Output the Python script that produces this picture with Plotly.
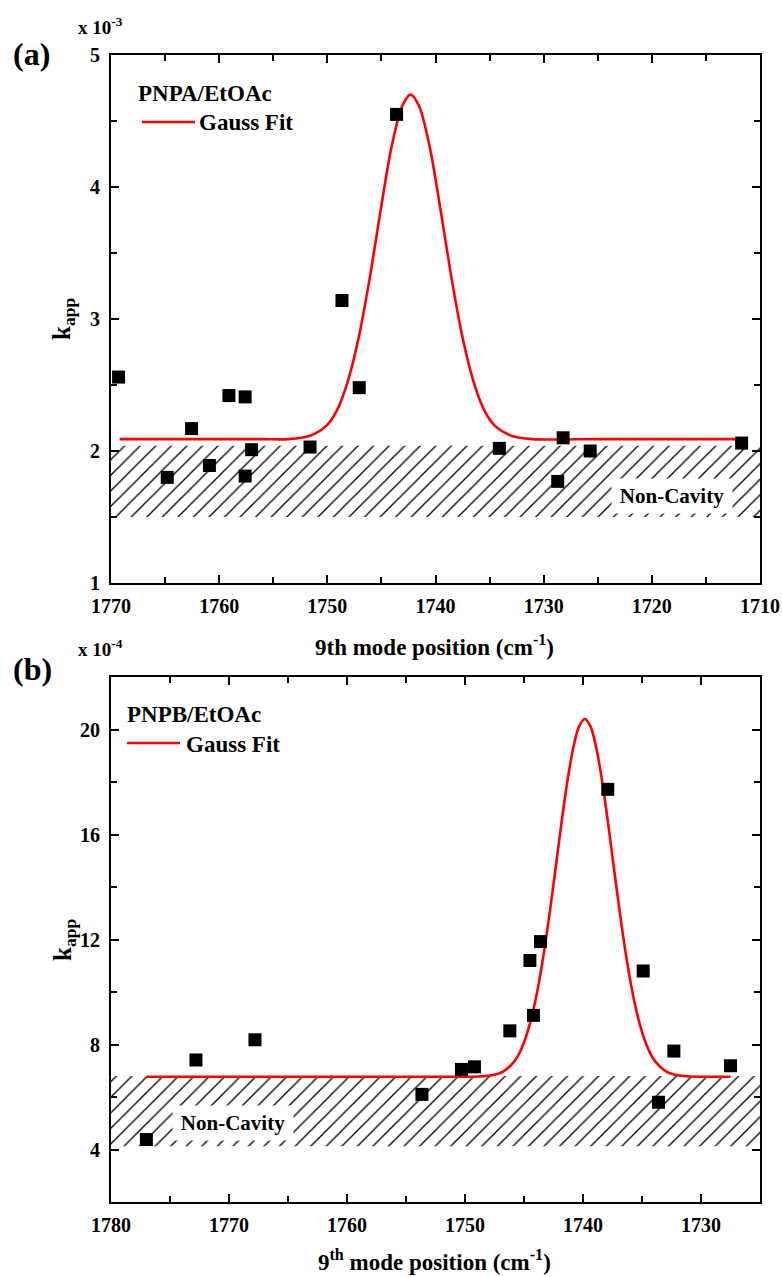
import plotly.graph_objects as go

W, H = 782, 1277

# ---------------- Panel (a): PNPA/EtOAc ----------------
a_x = [1769.3, 1764.8, 1762.55, 1760.9, 1759.1, 1757.6, 1757.6, 1757.0, 1751.6,
       1748.65, 1747.05, 1743.6, 1734.1, 1728.7, 1728.2, 1725.7, 1711.7]
a_y = [2.56, 1.80, 2.17, 1.89, 2.42, 2.41, 1.81, 2.01, 2.03,
       3.14, 2.48, 4.55, 2.02, 1.77, 2.10, 2.00, 2.06]
a_fit_x = [1769.2, 1762.0, 1756.0, 1753.6, 1751.6, 1750.1, 1749.1, 1748.1, 1747.1,
           1746.1, 1745.1, 1744.1, 1743.1, 1742.3, 1741.5, 1740.5, 1739.5, 1738.5,
           1737.5, 1736.5, 1735.5, 1734.5, 1733.0, 1731.0, 1725.0, 1718.0, 1711.9]
a_fit_y = [2.09, 2.09, 2.09, 2.09, 2.116, 2.19, 2.31, 2.53, 2.86,
           3.30, 3.81, 4.29, 4.61, 4.70, 4.61, 4.29, 3.81, 3.30,
           2.86, 2.53, 2.31, 2.19, 2.116, 2.09, 2.09, 2.09, 2.09]
a_band_x = [1770, 1710]
a_band_y = [1.50, 2.04]
a_yticks = [1, 2, 3, 4, 5]
a_xticks = [1770, 1760, 1750, 1740, 1730, 1720, 1710]

# ---------------- Panel (b): PNPB/EtOAc ----------------
b_x = [1777.0, 1772.8, 1767.8, 1753.65, 1750.3, 1749.2, 1746.2, 1744.5, 1744.2,
       1743.6, 1737.9, 1734.9, 1733.6, 1732.3, 1727.5]
b_y = [4.38, 7.41, 8.18, 6.10, 7.05, 7.15, 8.52, 11.2, 9.11,
       11.92, 17.72, 10.8, 5.80, 7.75, 7.19]
b_fit_x = [1777.0, 1765.0, 1755.0, 1750.85, 1748.85, 1747.85, 1746.85, 1745.85,
           1745.35, 1744.85, 1744.35, 1743.85, 1743.35, 1742.85, 1742.35, 1741.85,
           1741.35, 1740.85, 1740.35, 1739.85, 1739.35, 1738.85, 1738.35, 1737.85,
           1737.35, 1736.85, 1736.35, 1735.85, 1735.35, 1734.85, 1734.35, 1733.85,
           1732.85, 1731.85, 1730.85, 1727.5]
b_fit_y = [6.77, 6.77, 6.77, 6.77, 6.78, 6.82, 6.95, 7.34,
           7.71, 8.27, 9.05, 10.09, 11.39, 12.93, 14.62, 16.35,
           17.95, 19.25, 20.10, 20.40, 20.10, 19.25, 17.95, 16.35,
           14.62, 12.93, 11.39, 10.09, 9.05, 8.27, 7.71, 7.34,
           6.95, 6.82, 6.78, 6.77]
b_band_x = [1780, 1725]
b_band_y = [4.12, 6.80]
b_yticks = [4, 8, 12, 16, 20]
b_xticks = [1780, 1770, 1760, 1750, 1740, 1730]

FONT = "Liberation Serif"
RED = "#ff0000"


def px(x):
    return x / W


def py(y):
    return 1 - y / H


def band_trace(bx, by, xa, ya):
    return go.Scatter(
        x=[bx[0], bx[1], bx[1], bx[0], bx[0]],
        y=[by[0], by[0], by[1], by[1], by[0]],
        xaxis=xa, yaxis=ya, mode="lines", fill="toself",
        line=dict(width=0, color="rgba(0,0,0,0)"),
        fillcolor="white",
        fillpattern=dict(shape="/", size=11, solidity=0.12, fgcolor="black",
                         bgcolor="white", fillmode="replace"),
        hoverinfo="skip", showlegend=False,
    )


fig = go.Figure()
# panel a
fig.add_trace(band_trace(a_band_x, a_band_y, "x", "y"))
fig.add_trace(go.Scatter(x=a_fit_x, y=a_fit_y, xaxis="x", yaxis="y", mode="lines",
                         line=dict(color=RED, width=2.6, shape="spline", smoothing=0.8),
                         name="Gauss Fit", showlegend=False))
fig.add_trace(go.Scatter(x=a_x, y=a_y, xaxis="x", yaxis="y", mode="markers",
                         marker=dict(symbol="square", size=13, color="black"),
                         showlegend=False))
# panel b
fig.add_trace(band_trace(b_band_x, b_band_y, "x2", "y2"))
fig.add_trace(go.Scatter(x=b_fit_x, y=b_fit_y, xaxis="x2", yaxis="y2", mode="lines",
                         line=dict(color=RED, width=2.6, shape="spline", smoothing=0.8),
                         name="Gauss Fit", showlegend=False))
fig.add_trace(go.Scatter(x=b_x, y=b_y, xaxis="x2", yaxis="y2", mode="markers",
                         marker=dict(symbol="square", size=13, color="black"),
                         showlegend=False))

tickfont = dict(family=FONT, size=20, color="black", weight="bold")
common = dict(showline=True, linewidth=2, linecolor="black", mirror="ticks",
              ticks="inside", ticklen=8, tickwidth=2, tickcolor="black",
              showgrid=False, zeroline=False, tickfont=tickfont, automargin=False)

dom_x = [px(111), px(760)]
fig.update_layout(
    template="none",
    width=W, height=H,
    margin=dict(l=0, r=0, t=0, b=0, pad=0),
    paper_bgcolor="white", plot_bgcolor="white",
    showlegend=False,
    xaxis=dict(domain=dom_x, anchor="y", range=[1770, 1710], tickvals=a_xticks,
               minor=dict(dtick=5, ticks="inside", ticklen=6, tickwidth=2, tickcolor="black"),
               ticklabelstandoff=4, **common),
    yaxis=dict(domain=[py(583), py(55)], anchor="x", range=[1, 5], tickvals=a_yticks,
               minor=dict(dtick=0.5, ticks="inside", ticklen=6, tickwidth=2, tickcolor="black"),
               ticklabelstandoff=5, **common),
    xaxis2=dict(domain=dom_x, anchor="y2", range=[1780, 1725], tickvals=b_xticks,
                minor=dict(dtick=5, ticks="inside", ticklen=6, tickwidth=2, tickcolor="black"),
                ticklabelstandoff=4, **common),
    yaxis2=dict(domain=[py(1202), py(677)], anchor="x2", range=[2, 22], tickvals=b_yticks,
                minor=dict(dtick=2, ticks="inside", ticklen=6, tickwidth=2, tickcolor="black"),
                ticklabelstandoff=5, **common),
)


def ann(text, x, y, size, xanchor="center", yanchor="middle", angle=0):
    fig.add_annotation(text=text, x=px(x), y=py(y), xref="paper", yref="paper",
                       showarrow=False, xanchor=xanchor, yanchor=yanchor, textangle=angle,
                       font=dict(family=FONT, size=size, color="black", weight="bold"))


# panel labels
ann("(a)", 31, 54, 32)
ann("(b)", 32, 669, 32)
# scale factors
ann("x 10<sup>-3</sup>", 76, 26, 19, xanchor="left")
ann("x 10<sup>-4</sup>", 76, 648, 19, xanchor="left")
# axis titles
ann("9th mode position (cm<sup>-1</sup>)", 434, 645, 23)
ann("9<sup>th</sup> mode position (cm<sup>-1</sup>)", 434, 1260, 23)
ann("k<sub>app</sub>", 64, 319, 25, angle=-90)
ann("k<sub>app</sub>", 64, 940, 25, angle=-90)
# legends
ann("PNPA/EtOAc", 136, 93, 23, xanchor="left")
ann("Gauss Fit", 197, 122, 23, xanchor="left")
ann("PNPB/EtOAc", 125, 714, 23, xanchor="left")
ann("Gauss Fit", 184, 744, 23, xanchor="left")
fig.add_shape(type="line", xref="paper", yref="paper", x0=px(142), x1=px(195),
              y0=py(122), y1=py(122), line=dict(color=RED, width=2.6))
fig.add_shape(type="line", xref="paper", yref="paper", x0=px(127), x1=px(180),
              y0=py(743), y1=py(743), line=dict(color=RED, width=2.6))

# Non-Cavity labels (white boxes over the hatched bands)
fig.add_annotation(text="Non-Cavity", x=1718.1, y=1.66, xref="x", yref="y",
                   showarrow=False, bgcolor="white", borderpad=4, width=112, height=26,
                   font=dict(family=FONT, size=21, color="black", weight="bold"))
fig.add_annotation(text="Non-Cavity", x=1769.66, y=5.0, xref="x2", yref="y2",
                   showarrow=False, bgcolor="white", borderpad=4, width=112, height=26,
                   font=dict(family=FONT, size=21, color="black", weight="bold"))

fig.write_html("out.html")
